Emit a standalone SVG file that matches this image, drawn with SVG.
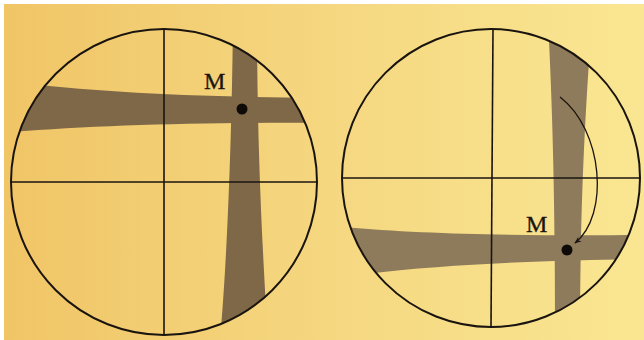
<svg xmlns="http://www.w3.org/2000/svg" width="644" height="340" viewBox="0 0 644 340">
  <defs>
    <linearGradient id="bg" x1="0" y1="0" x2="1" y2="0">
      <stop offset="0" stop-color="#f0c566"/>
      <stop offset="0.5" stop-color="#f5d780"/>
      <stop offset="1" stop-color="#fae692"/>
    </linearGradient>
    <clipPath id="clipL"><circle cx="164" cy="182" r="153"/></clipPath>
    <clipPath id="clipR"><circle cx="491" cy="178" r="149"/></clipPath>
    <marker id="arr" viewBox="0 0 10 10" refX="9" refY="5" markerWidth="7" markerHeight="7" orient="auto" markerUnits="userSpaceOnUse">
      <path d="M0,1 L10,5 L0,9 L3,5 Z" fill="#1a1410"/>
    </marker>
    <style>
      .ring{fill:none;stroke:#1a1410;stroke-width:2}
      .cross{stroke:#1a1410;stroke-width:1.6}
      .bandL{fill:#7f6848}
      .bandR{fill:#8e7b5b}
      .dot{fill:#0d0a08}
      .lbl{font-family:"Liberation Serif","DejaVu Serif",serif;font-size:24px;fill:#1a1410;stroke:#1a1410;stroke-width:0.3}
    </style>
  </defs>
  <rect x="0" y="0" width="644" height="340" fill="#ffffff"/>
  <rect x="4" y="4" width="640" height="336" fill="url(#bg)"/>

  <g id="left-field">
    <g clip-path="url(#clipL)">
      <path class="bandL" d="M 10 82 C 100 92, 180 97, 330 98 L 330 123 C 200 122, 100 125, 10 132 Z"/>
      <path class="bandL" d="M 233 20 C 232 120, 228 250, 220 340 L 268 340 C 263 260, 257 150, 257 20 Z"/>
    </g>
    <line class="cross" x1="164" y1="29" x2="164" y2="335"/>
    <line class="cross" x1="11" y1="182" x2="317" y2="182"/>
    <circle class="ring" cx="164" cy="182" r="153"/>
    <circle class="dot" cx="242" cy="109" r="5.5"/>
    <text class="lbl" x="204" y="89">M</text>
  </g>

  <g id="right-field">
    <g clip-path="url(#clipR)">
      <path class="bandR" d="M 330 226 C 420 234, 500 236, 650 235 L 650 259 C 520 261, 440 264, 330 278 Z"/>
      <path class="bandR" d="M 548 20 C 553 120, 555 200, 555 340 L 580 340 C 580 250, 582 150, 592 20 Z"/>
    </g>
    <line class="cross" x1="493" y1="29" x2="491" y2="327"/>
    <line class="cross" x1="342" y1="178" x2="640" y2="178"/>
    <circle class="ring" cx="491" cy="178" r="149"/>
    <circle class="dot" cx="567" cy="250" r="5.5"/>
    <text class="lbl" x="526" y="232">M</text>
  </g>

  <g id="connectors">
    <path d="M 560 97 C 603 130, 610 215, 575 243" fill="none" stroke="#1a1410" stroke-width="1.3" marker-end="url(#arr)"/>
  </g>
</svg>
